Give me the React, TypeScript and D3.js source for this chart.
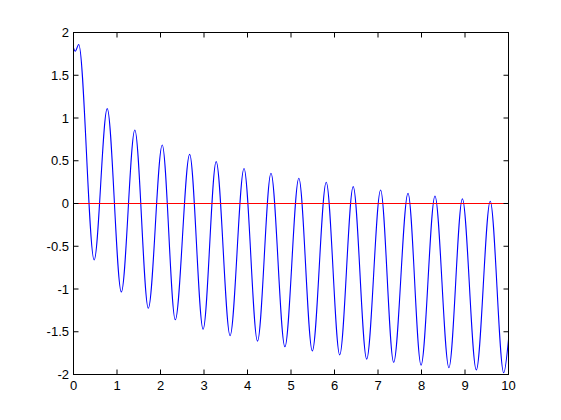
import React from "react";
import * as d3 from "d3";

// Values
const startT = [0, 0.04, 0.12];
const startY = [1.82, 1.78, 1.86];
const troughT = [0.475, 1.1, 1.72, 2.34, 2.98, 3.6, 4.23, 4.86, 5.49, 6.12, 6.74, 7.36, 7.99, 8.63, 9.26, 9.89];
const troughY = [-0.66, -1.035, -1.226, -1.36, -1.47, -1.546, -1.61, -1.675, -1.725, -1.77, -1.82, -1.857, -1.89, -1.92, -1.947, -1.98];
const peakT = [0.775, 1.41, 2.04, 2.67, 3.28, 3.92, 4.54, 5.18, 5.81, 6.43, 7.06, 7.69, 8.31, 8.94, 9.58];
const peakY = [1.11, 0.86, 0.684, 0.575, 0.49, 0.41, 0.353, 0.295, 0.248, 0.197, 0.158, 0.12, 0.088, 0.056, 0.026];
const endT = [10];
const endY = [-1.59];

const xTicks = [0, 1, 2, 3, 4, 5, 6, 7, 8, 9, 10];
const yTicks = [-2, -1.5, -1, -0.5, 0, 0.5, 1, 1.5, 2];
const xTickLabels = ["0", "1", "2", "3", "4", "5", "6", "7", "8", "9", "10"];
const yTickLabels = ["-2", "-1.5", "-1", "-0.5", "0", "0.5", "1", "1.5", "2"];

const W = 561;
const H = 420;
const L = 73.5, R = 508.5, T = 32.5, B = 374.5;

export default function App() {
  const x = d3.scaleLinear().domain([0, 10]).range([L, R]);
  const y = d3.scaleLinear().domain([-2, 2]).range([B, T]);

  const pts: [number, number][] = [];
  startT.forEach((t, i) => pts.push([t, startY[i]]));
  troughT.forEach((t, i) => pts.push([t, troughY[i]]));
  peakT.forEach((t, i) => pts.push([t, peakY[i]]));
  endT.forEach((t, i) => pts.push([t, endY[i]]));
  pts.sort((a, b) => a[0] - b[0]);

  const line = d3
    .line<[number, number]>()
    .x((d) => x(d[0]))
    .y((d) => y(d[1]))
    .curve(d3.curveMonotoneX);

  const tickLen = 5;
  const font = "'Liberation Sans', Arial, Helvetica, sans-serif";

  return (
    <svg
      width={W}
      height={H}
      style={{ position: "absolute", left: 0, top: 0, background: "#fff" }}
    >
      <rect x={0} y={0} width={W} height={H} fill="#fff" />
      <path d={line(pts) || ""} fill="none" stroke="#0000ff" strokeWidth={1.1} />
      <line x1={L} x2={R} y1={y(0)} y2={y(0)} stroke="#ff0000" strokeWidth={1} />
      <rect x={L} y={T} width={R - L} height={B - T} fill="none" stroke="#000" strokeWidth={1} />
      {xTicks.map((v, i) => (
        <g key={"x" + i}>
          <line x1={x(v)} x2={x(v)} y1={B} y2={B - tickLen} stroke="#000" />
          <line x1={x(v)} x2={x(v)} y1={T} y2={T + tickLen} stroke="#000" />
          <text
            x={x(v)}
            y={389.5}
            textAnchor="middle"
            fontFamily={font}
            fontSize={13}
            fill="#000"
          >
            {xTickLabels[i]}
          </text>
        </g>
      ))}
      {yTicks.map((v, i) => (
        <g key={"y" + i}>
          <line x1={L} x2={L + tickLen} y1={y(v)} y2={y(v)} stroke="#000" />
          <line x1={R} x2={R - tickLen} y1={y(v)} y2={y(v)} stroke="#000" />
          <text
            x={69}
            y={y(v) + 4.7}
            textAnchor="end"
            fontFamily={font}
            fontSize={13}
            fill="#000"
          >
            {yTickLabels[i]}
          </text>
        </g>
      ))}
    </svg>
  );
}
